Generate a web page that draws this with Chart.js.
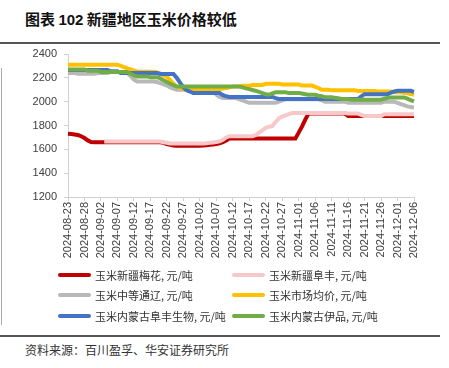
<!DOCTYPE html>
<html>
<head>
<meta charset="utf-8">
<script src="https://cdn.jsdelivr.net/npm/chart.js@4"></script>
<style>
  body { margin: 0; width: 449px; height: 368px; background: #fff; position: relative; overflow: hidden;
         font-family: "Noto Sans CJK SC", "Liberation Sans", sans-serif; }
  #title { position: absolute; left: 25px; top: 8px; font-size: 15px; font-weight: bold; color: #111; }
  #title b { font-family: "Liberation Sans", Arial, sans-serif; }
  .rule { position: absolute; left: 0; width: 440px; height: 2px; background: #555; }
  #vline { position: absolute; left: 1px; top: 68px; width: 1px; height: 257px; background: #aaa; }
  #c { position: absolute; left: 0; top: 40px; }
  .lg-line { position: absolute; width: 33px; height: 4px; border-radius: 2px; }
  .lg-text { position: absolute; font-size: 11px; color: #333; line-height: 14px; white-space: nowrap; }
  #source { position: absolute; left: 25px; top: 341px; font-size: 12px; color: #333; }
</style>
</head>
<body>
<div id="title">图表 <b>102</b> 新疆地区玉米价格较低</div>
<div class="rule" style="top:42px"></div>
<div id="vline"></div>
<canvas id="c" width="449" height="230"></canvas>
<div id="legend"></div>
<div class="rule" style="top:335px"></div>
<div id="source">资料来源：百川盈孚、华安证券研究所</div>

<script>
var dates = [
  "2024-08-23","2024-08-24","2024-08-25","2024-08-26","2024-08-27","2024-08-28","2024-08-29","2024-08-30","2024-08-31",
  "2024-09-01","2024-09-02","2024-09-03","2024-09-04","2024-09-05","2024-09-06","2024-09-07","2024-09-08","2024-09-09","2024-09-10",
  "2024-09-11","2024-09-12","2024-09-13","2024-09-14","2024-09-15","2024-09-16","2024-09-17","2024-09-18","2024-09-19","2024-09-20",
  "2024-09-21","2024-09-22","2024-09-23","2024-09-24","2024-09-25","2024-09-26","2024-09-27","2024-09-28","2024-09-29","2024-09-30",
  "2024-10-01","2024-10-02","2024-10-03","2024-10-04","2024-10-05","2024-10-06","2024-10-07","2024-10-08","2024-10-09","2024-10-10",
  "2024-10-11","2024-10-12","2024-10-13","2024-10-14","2024-10-15","2024-10-16","2024-10-17","2024-10-18","2024-10-19","2024-10-20",
  "2024-10-21","2024-10-22","2024-10-23","2024-10-24","2024-10-25","2024-10-26","2024-10-27","2024-10-28","2024-10-29","2024-10-30","2024-10-31",
  "2024-11-01","2024-11-02","2024-11-03","2024-11-04","2024-11-05","2024-11-06","2024-11-07","2024-11-08","2024-11-09","2024-11-10",
  "2024-11-11","2024-11-12","2024-11-13","2024-11-14","2024-11-15","2024-11-16","2024-11-17","2024-11-18","2024-11-19","2024-11-20",
  "2024-11-21","2024-11-22","2024-11-23","2024-11-24","2024-11-25","2024-11-26","2024-11-27","2024-11-28","2024-11-29","2024-11-30",
  "2024-12-01","2024-12-02","2024-12-03","2024-12-04","2024-12-05","2024-12-06"
];

// 玉米新疆梅花
var xjMeihua = [
  1730,1728,1725,1720,1710,1695,1675,1662,1660,1660,
  1660,1660,1660,1660,1660,1660,1660,1660,1660,1660,
  1660,1660,1660,1660,1660,1660,1660,1660,1660,1655,
  1645,1638,1632,1630,1630,1630,1630,1630,1630,1630,
  1630,1632,1635,1638,1640,1645,1650,1660,1675,1690,
  1690,1690,1690,1690,1690,1690,1690,1690,1690,1690,
  1690,1690,1690,1690,1690,1690,1690,1690,1690,1690,
  1740,1790,1850,1900,1900,1900,1900,1900,1900,1900,
  1900,1900,1900,1900,1900,1880,1880,1880,1880,1880,
  1880,1880,1880,1880,1880,1880,1880,1880,1880,1880,
  1880,1880,1880,1880,1880,1880
];
// 玉米新疆阜丰
var xjFufeng = [
  null,null,null,null,null,null,null,null,null,null,
  null,1665,1665,1665,1665,1665,1665,1665,1665,1665,
  1665,1665,1665,1665,1665,1665,1665,1665,1665,1660,
  1655,1650,1650,1650,1650,1650,1650,1650,1650,1650,
  1650,1650,1652,1655,1658,1662,1668,1680,1700,1710,
  1710,1710,1710,1710,1710,1710,1710,1720,1740,1760,
  1780,1790,1795,1830,1860,1875,1885,1895,1905,1905,
  1905,1905,1905,1905,1905,1905,1905,1905,1905,1905,
  1905,1905,1905,1905,1905,1900,1900,1900,1900,1890,
  1880,1880,1880,1880,1880,1880,1895,1895,1895,1895,
  1895,1895,1895,1895,1895,1895
];
// 玉米中等通辽
var tongliao = [
  2240,2240,2240,2235,2235,2235,2235,2235,2235,2240,
  2240,2240,2240,2250,2250,2250,2250,2250,2240,2215,
  2185,2170,2170,2170,2170,2170,2170,2165,2155,2145,
  2135,2120,2110,2100,2100,2100,2100,2100,2100,2100,
  2100,2100,2100,2100,2100,2060,2040,2030,2030,2030,
  2030,2030,2020,2010,2000,1990,1990,1990,1990,1990,
  1990,1990,1990,1990,2000,2010,2020,2020,2020,2020,
  2020,2020,2020,2020,2020,2020,2020,2010,2000,2000,
  2000,2000,2000,2000,2000,1990,1990,1990,1990,1990,
  1990,1990,1990,1990,1990,1990,2000,2000,2000,2000,
  1990,1980,1970,1960,1955,1950
];
// 玉米市场均价
var marketAvg = [
  2310,2310,2310,2310,2310,2310,2310,2310,2310,2310,
  2310,2310,2310,2310,2310,2310,2300,2290,2280,2270,
  2262,2252,2252,2252,2252,2252,2252,2245,2235,2222,
  2210,2180,2150,2127,2115,2105,2100,2100,2100,2100,
  2100,2100,2100,2100,2100,2100,2105,2110,2115,2120,
  2128,2128,2128,2133,2133,2133,2140,2140,2140,2140,
  2150,2150,2150,2150,2150,2145,2145,2145,2145,2145,
  2145,2135,2135,2135,2135,2125,2115,2100,2100,2100,
  2095,2095,2095,2095,2095,2095,2095,2095,2090,2090,
  2090,2090,2090,2090,2085,2085,2085,2085,2085,2078,
  2078,2078,2075,2070,2065,2058
];
// 玉米内蒙古阜丰生物
var nmFufeng = [
  2265,2265,2265,2265,2265,2265,2265,2265,2265,2265,
  2265,2265,2265,2255,2255,2255,2240,2240,2240,2240,
  2240,2240,2240,2240,2240,2240,2240,2240,2232,2232,
  2232,2232,2232,2200,2160,2120,2095,2085,2072,2072,
  2072,2072,2072,2072,2072,2072,2072,2055,2045,2040,
  2040,2040,2040,2040,2040,2040,2040,2040,2040,2040,
  2040,2040,2040,2030,2022,2022,2022,2022,2022,2022,
  2022,2022,2022,2022,2022,2022,2022,2022,2022,2022,
  2022,2022,2022,2022,2022,2022,2022,2022,2022,2045,
  2063,2063,2063,2063,2063,2063,2063,2063,2075,2085,
  2091,2091,2091,2091,2091,2082
];
// 玉米内蒙古伊品
var nmYipin = [
  2270,2270,2270,2270,2270,2270,2260,2260,2260,2260,
  2250,2250,2250,2250,2250,2250,2250,2250,2250,2235,
  2220,2212,2212,2212,2212,2205,2205,2205,2195,2180,
  2165,2150,2138,2127,2127,2127,2127,2127,2127,2127,
  2127,2127,2127,2127,2127,2127,2127,2127,2127,2127,
  2127,2127,2127,2120,2112,2105,2098,2090,2082,2072,
  2062,2058,2070,2078,2078,2078,2078,2072,2072,2072,
  2072,2068,2063,2058,2058,2058,2050,2045,2038,2038,
  2038,2032,2028,2022,2022,2022,2016,2016,2016,2016,
  2016,2016,2016,2016,2016,2016,2025,2032,2036,2036,
  2036,2036,2036,2025,2012,2002
];

var seriesNames = ["玉米新疆梅花, 元/吨", "玉米新疆阜丰, 元/吨", "玉米中等通辽, 元/吨",
                   "玉米市场均价, 元/吨", "玉米内蒙古阜丰生物, 元/吨", "玉米内蒙古伊品, 元/吨"];
var seriesData = [xjMeihua, xjFufeng, tongliao, marketAvg, nmFufeng, nmYipin];
var colors = ["#C00000", "#F8C8C8", "#B8B8B8", "#FFC000", "#4472C4", "#70AD47"];

var yTicks = { min: 1200, max: 2400, step: 200 };

var datasets = seriesData.map(function (d, i) {
  return {
    label: seriesNames[i],
    data: d,
    borderColor: colors[i],
    backgroundColor: colors[i],
    borderWidth: 4,
    pointRadius: 0,
    tension: 0,
    fill: false,
    order: seriesData.length - i  // later series drawn on top, like the original
  };
});

var tickFont = { family: "'Liberation Sans', Arial, sans-serif", size: 11 };

new Chart(document.getElementById("c"), {
  type: "line",
  data: { labels: dates, datasets: datasets },
  options: {
    responsive: false,
    animation: false,
    devicePixelRatio: 1,
    layout: { padding: { top: 14, right: 35, left: 0, bottom: 0 } },
    plugins: { legend: { display: false }, tooltip: { enabled: false } },
    scales: {
      x: {
        ticks: {
          autoSkip: false, maxRotation: 90, minRotation: 90, padding: 1,
          color: "#404040", font: tickFont,
          callback: function (v, i) { return i % 5 === 0 ? dates[i] : ""; }
        },
        grid: {
          drawOnChartArea: false, tickLength: 4,
          color: function (ctx) { return ctx.index % 5 === 0 ? "#d0d0d0" : "rgba(0,0,0,0)"; }
        },
        border: { color: "#d0d0d0" },
        afterFit: function (s) { s.height = 73; }
      },
      y: {
        min: yTicks.min, max: yTicks.max,
        ticks: {
          stepSize: yTicks.step, color: "#404040", font: tickFont, padding: 7,
          callback: function (v) { return String(v); }
        },
        grid: { drawOnChartArea: false, tickLength: 4, color: "#d0d0d0" },
        border: { color: "#d0d0d0" },
        afterFit: function (s) { s.width = 68; }
      }
    }
  }
});

// legend, two columns
var lg = document.getElementById("legend");
var rowY = [275, 295, 316];
seriesNames.forEach(function (name, i) {
  var col = i % 2, row = Math.floor(i / 2);
  var line = document.createElement("div");
  line.className = "lg-line";
  line.style.left = (58 + col * 174) + "px";
  line.style.top = (rowY[row] - 2) + "px";
  line.style.background = colors[i];
  lg.appendChild(line);
  var txt = document.createElement("div");
  txt.className = "lg-text";
  txt.style.left = (95 + col * 174) + "px";
  txt.style.top = (rowY[row] - 7) + "px";
  txt.textContent = name;
  lg.appendChild(txt);
});
</script>
</body>
</html>
